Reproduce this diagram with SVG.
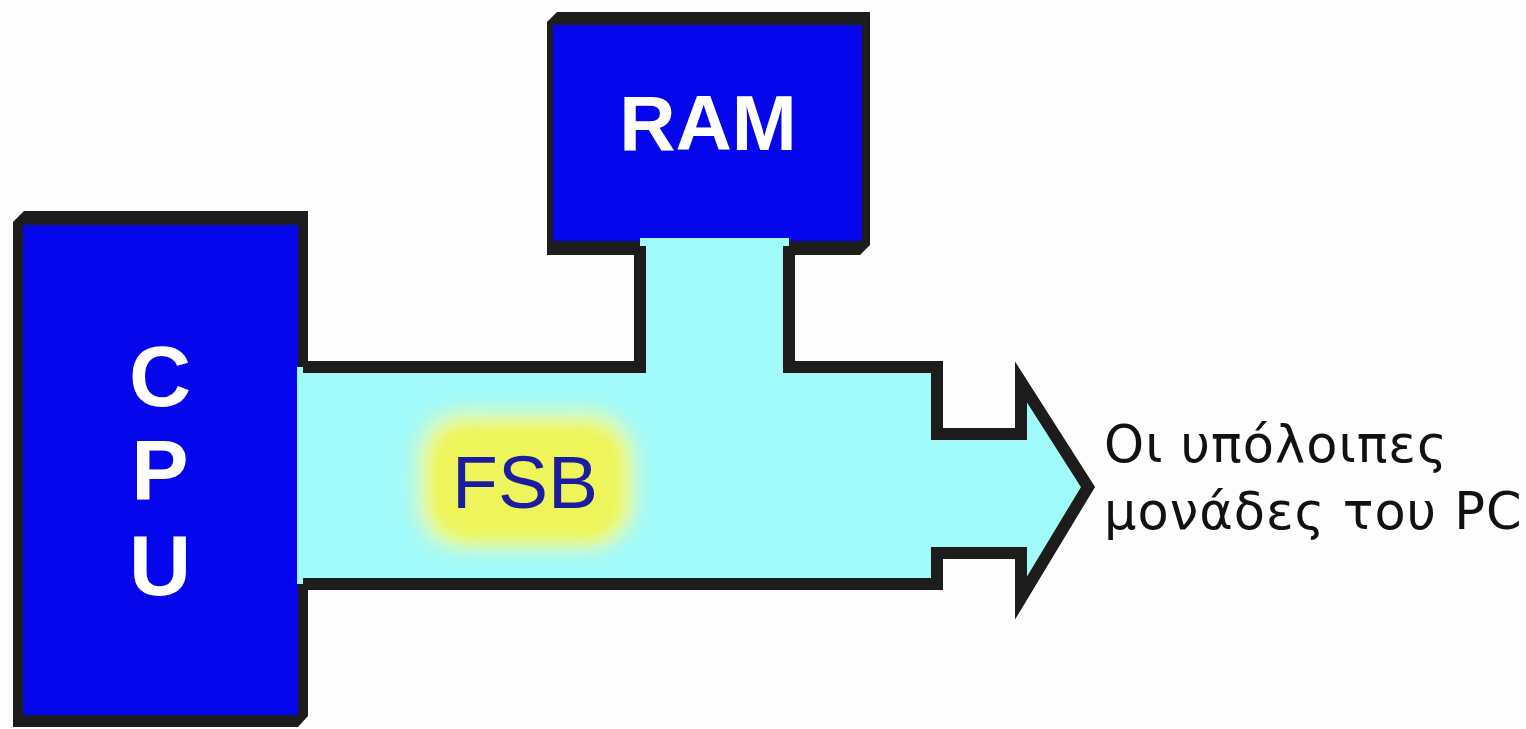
<svg xmlns="http://www.w3.org/2000/svg" width="1526" height="729" viewBox="0 0 1526 729">
  <style>
    .edge { fill: #1c1c1c; }
    .chip { fill: #0606ec; }
    .chipText { font-family: "Liberation Sans", Arial, sans-serif; font-weight: bold; fill: #ffffff; text-anchor: middle; }
    .busFill { fill: #a0fafa; }
    .busLine { fill: none; stroke: #1c1c1c; stroke-width: 12; stroke-linejoin: miter; stroke-linecap: square; }
    .fsbText { font-family: "Liberation Sans", Arial, sans-serif; font-size: 75px; fill: #1c1ca0; text-anchor: middle; }
    .label { font-family: "DejaVu Sans", "Liberation Sans", sans-serif; font-size: 51px; fill: #111111; letter-spacing: 1px; }
  </style>
  <defs>
    <filter id="glow" x="-30%" y="-30%" width="160%" height="160%">
      <feGaussianBlur stdDeviation="7"/>
    </filter>
    <filter id="halo" x="-30%" y="-30%" width="160%" height="160%">
      <feGaussianBlur stdDeviation="10"/>
    </filter>
  </defs>
  <rect x="0" y="0" width="1526" height="729" fill="#fdfdfd"/>

  <g id="cpu">
    <polygon class="edge" points="24,211 308,211 308,716 298,727 13,727 13,222"/>
    <rect class="chip" x="23" y="225" width="275" height="490"/>
  </g>

  <g id="ram">
    <polygon class="edge" points="557,12 870,12 870,245 860,255 547,255 547,22"/>
    <rect class="chip" x="553" y="25" width="309" height="216"/>
  </g>

  <g id="connectors">
    <path class="busFill" d="M 297 367 L 640 367 L 640 238 L 789 238 L 789 367 L 937 367 L 937 434 L 1021 434 L 1021 382 L 1088 487 L 1021 598 L 1021 553 L 937 553 L 937 584 L 297 584 Z"/>
    <path class="busLine" d="M 309 367 L 640 367 L 640 252"/>
    <path class="busLine" d="M 789 252 L 789 367 L 937 367 L 937 434 L 1021 434 L 1021 382 L 1088 487 L 1021 598 L 1021 553 L 937 553 L 937 584 L 309 584"/>
  </g>

  <g id="cpu-label">
    <text class="chipText" x="160" y="406" font-size="86">C</text>
    <text class="chipText" x="160" y="500" font-size="86">P</text>
    <text class="chipText" x="160" y="595" font-size="86">U</text>
  </g>

  <g id="ram-label">
    <text class="chipText" x="708" y="150" font-size="78">RAM</text>
  </g>

  <g id="fsb">
    <rect x="416" y="410" width="220" height="140" rx="48" fill="#e4fbb4" filter="url(#halo)"/>
    <rect x="430" y="424" width="194" height="116" rx="38" fill="#eef55a" filter="url(#glow)"/>
    <text class="fsbText" x="525" y="508">FSB</text>
  </g>

  <g id="destination">
    <text class="label" x="1104" y="462">Οι υπόλοιπες</text>
    <text class="label" x="1104" y="529">μονάδες του PC</text>
  </g>
</svg>
